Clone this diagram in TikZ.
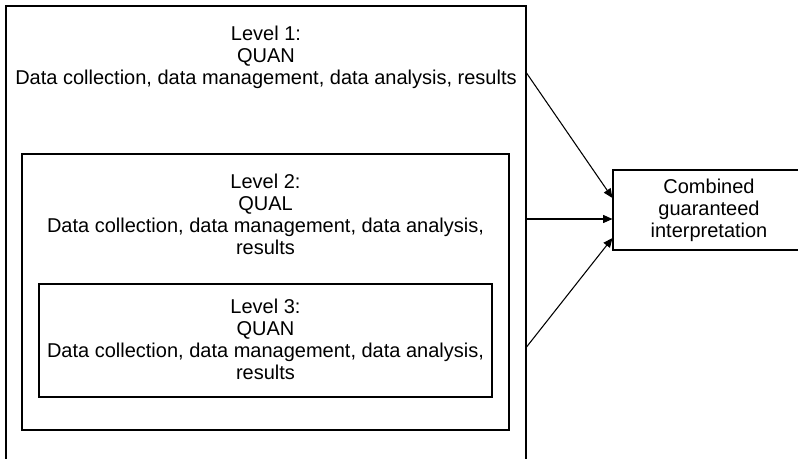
\documentclass[tikz,border=0pt]{standalone}
\usepackage{fontspec}
\setmainfont{Liberation Sans}
\usetikzlibrary{arrows.meta,positioning}

\begin{document}
\begin{tikzpicture}[x=0.75pt,y=-0.75pt,font=\fontsize{15}{16.5}\selectfont]
\tikzset{
    %Define standard arrow tip
    >={Triangle[length=7pt,width=6pt]},
    %Define style for boxes
    boks/.style={
           rectangle,
           draw=black, line width=0.8pt,
           inner sep=0pt,
           },
    % Define style for text inside the boxes
    tekst/.style={
           align=center,
           inner sep=0pt,
           },
    % Define arrow style
    pil/.style={
           ->,
           line width=0.8pt,},
}
	\useasboundingbox (0,0) rectangle (798,458);
	\clip (0,0) rectangle (798,458);
 %boxes
	\node[boks,minimum width=390pt,minimum height=348pt] (lvl1) at (266,238) {};
	\node[boks,minimum width=365.25pt,minimum height=207pt] (lvl2) at (265.5,292) {};
	\node[boks,minimum width=339.75pt,minimum height=84.75pt] (lvl3) at (265.5,340.5) {};
	\node[boks,align=center,minimum width=144pt,minimum height=60pt] (comb) at (709,210) {Combined\\guaranteed\\interpretation};
 %texts
	\node[tekst] (lvl1txt) at (266,57) {Level 1:\\QUAN\\Data collection, data management, data analysis, results};
	\node[tekst] (lvl2txt) at (265.5,214) {Level 2:\\QUAL\\Data collection, data management, data analysis,\\results};
	\node[tekst] (lvl3txt) at (265.5,339) {Level 3:\\QUAN\\Data collection, data management, data analysis,\\results};

	\draw[pil] ([shift={(0,-165)}]lvl1.east) -- ([shift={(0,-12)}]comb.west);
	\draw[pil] ([shift={(0,-19)}]lvl1.east) -- ([shift={(0,9)}]comb.west);
	\draw[pil] ([shift={(0,109)}]lvl1.east) -- ([shift={(0,28)}]comb.west);

\end{tikzpicture}
\end{document}
